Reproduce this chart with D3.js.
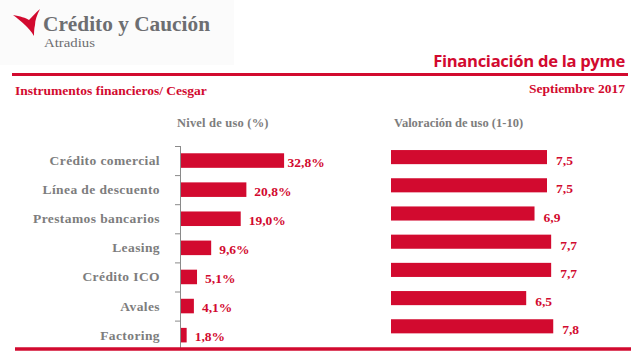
<!DOCTYPE html>
<html><head><meta charset="utf-8">
<script src="https://cdn.jsdelivr.net/npm/d3@7"></script>
<style>html,body{margin:0;padding:0;background:#fff;}</style>
</head><body>
<svg id="c" width="641" height="358"></svg>
<script>
const categories = ["Crédito comercial","Línea de descuento","Prestamos bancarios","Leasing","Crédito ICO","Avales","Factoring"];
const usageValues = [32.8, 20.8, 19.0, 9.6, 5.1, 4.1, 1.8];
const ratingValues = [7.5, 7.5, 6.9, 7.7, 7.7, 6.5, 7.8];
const usageLabels = ["32,8%","20,8%","19,0%","9,6%","5,1%","4,1%","1,8%"];
const ratingLabels = ["7,5","7,5","6,9","7,7","7,7","6,5","7,8"];

const RED = "#d20a2f", GRAY = "#7d7d7d", SERIF = "'Liberation Serif', serif";
const svg = d3.select("#c");

// logo area
svg.append("rect").attr("x",0).attr("y",0).attr("width",234).attr("height",65).attr("fill","#fbfbfb");
svg.append("path").attr("d","M13,15 C20,16 26,18 29,20 C33,16 36,12 40,9 C37,15 35,20 35,25 C34,29 34,33 34,36 C31,31 28,28 25,25 C21,21 17,18 13,15 Z").attr("fill",RED);
svg.append("text").attr("x",43).attr("y",30.5).attr("font-family",SERIF).attr("font-weight","bold").attr("font-size",22)
  .attr("fill","#6d6e71").attr("textLength",167).attr("lengthAdjust","spacingAndGlyphs").text("Crédito y Caución");
svg.append("text").attr("x",44).attr("y",46.5).attr("font-family",SERIF).attr("font-size",13)
  .attr("fill","#6d6e71").attr("textLength",51).attr("lengthAdjust","spacingAndGlyphs").text("Atradius");

// headers
svg.append("text").attr("x",625).attr("y",66.5).attr("text-anchor","end").attr("font-family","'Open Sans', sans-serif")
  .attr("font-weight","bold").attr("font-size",16.6).attr("fill",RED).attr("letter-spacing",-0.3).text("Financiación de la pyme");
svg.append("line").attr("x1",12).attr("x2",628).attr("y1",74.5).attr("y2",74.5).attr("stroke",RED).attr("stroke-width",3);
svg.append("text").attr("x",15).attr("y",95).attr("font-family",SERIF).attr("font-weight","bold").attr("font-size",13.5)
  .attr("fill",RED).text("Instrumentos financieros/ Cesgar");
svg.append("text").attr("x",625).attr("y",92.5).attr("text-anchor","end").attr("font-family",SERIF).attr("font-weight","bold")
  .attr("font-size",13.5).attr("fill",RED).text("Septiembre 2017");
svg.append("text").attr("x",177).attr("y",127).attr("font-family",SERIF).attr("font-weight","bold").attr("font-size",12.5)
  .attr("fill",GRAY).attr("letter-spacing",0.2).text("Nivel de uso (%)");
svg.append("text").attr("x",394).attr("y",127.3).attr("font-family",SERIF).attr("font-weight","bold").attr("font-size",12.5)
  .attr("fill",GRAY).text("Valoración de uso (1-10)");

// left chart
const xL = d3.scaleLinear().domain([0,35]).range([181,291]);
const yL = d3.scaleBand().domain(categories).range([146,349.7]).paddingInner(0.5).paddingOuter(0.25);
const gL = svg.append("g");
gL.selectAll("rect").data(categories).join("rect")
  .attr("x",xL(0)).attr("y",d=>yL(d)).attr("width",(d,i)=>xL(usageValues[i])-xL(0)).attr("height",yL.bandwidth()).attr("fill",RED);
gL.selectAll("text.v").data(categories).join("text").attr("class","v")
  .attr("x",(d,i)=>xL(usageValues[i]) + (i===0?3.5:8)).attr("y",d=>yL(d)+yL.bandwidth()/2+6)
  .attr("font-family",SERIF).attr("font-weight","bold").attr("font-size",13.5).attr("fill",RED).text((d,i)=>usageLabels[i]);
gL.selectAll("text.c").data(categories).join("text").attr("class","c")
  .attr("x",160).attr("y",d=>yL(d)+yL.bandwidth()/2+4.5).attr("text-anchor","end")
  .attr("font-family",SERIF).attr("font-weight","bold").attr("font-size",13.5).attr("letter-spacing",0.4).attr("fill",GRAY).text(d=>d);
// axis
gL.append("line").attr("x1",180.5).attr("x2",180.5).attr("y1",146).attr("y2",349).attr("stroke","#8a8a8a").attr("stroke-width",1);
const tickYs = categories.map((d,i)=>yL.range()[0]+i*yL.step());
gL.selectAll("line.t").data(tickYs).join("line").attr("class","t")
  .attr("x1",175).attr("x2",181).attr("y1",d=>d+0.5).attr("y2",d=>d+0.5).attr("stroke","#8a8a8a");

// right chart
const xR = d3.scaleLinear().domain([0,10]).range([391,599]);
const yR = d3.scaleBand().domain(categories).range([143,340.4]).paddingInner(0.5).paddingOuter(0.25);
const gR = svg.append("g");
gR.selectAll("rect").data(categories).join("rect")
  .attr("x",xR(0)).attr("y",d=>yR(d)).attr("width",(d,i)=>xR(ratingValues[i])-xR(0)).attr("height",yR.bandwidth()).attr("fill",RED);
gR.selectAll("text").data(categories).join("text")
  .attr("x",(d,i)=>xR(ratingValues[i])+9).attr("y",d=>yR(d)+yR.bandwidth()/2+8)
  .attr("font-family",SERIF).attr("font-weight","bold").attr("font-size",13.5).attr("fill",RED).text((d,i)=>ratingLabels[i]);

// bottom rule
svg.append("line").attr("x1",15).attr("x2",631).attr("y1",349).attr("y2",349).attr("stroke",RED).attr("stroke-width",3.5);
</script>
</body></html>
